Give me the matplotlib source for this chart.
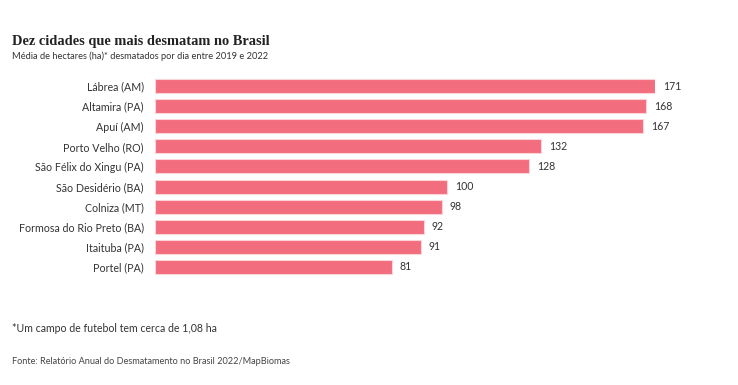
import matplotlib.pyplot as plt

cidades = ['Lábrea (AM)', 'Altamira (PA)', 'Apuí (AM)', 'Porto Velho (RO)',
           'São Félix do Xingu (PA)', 'São Desidério (BA)', 'Colniza (MT)',
           'Formosa do Rio Preto (BA)', 'Itaituba (PA)', 'Portel (PA)']
hectares = [171, 168, 167, 132, 128, 100, 98, 92, 91, 81]

plt.rcParams['font.family'] = ['Lato', 'DejaVu Sans']

W, H = 738, 385
fig = plt.figure(figsize=(W / 100, H / 100), dpi=100)
ax = fig.add_axes([155 / W, 1 - 277 / H, 500 / W, 201 / H])

pos = list(range(len(cidades)))
ax.barh(pos, hectares, height=0.7, color='#f26d7d', edgecolor='#fbd3d8', linewidth=0.8)
ax.set_xlim(0, 171)
ax.set_ylim(len(cidades) - 0.5, -0.5)
ax.set_yticks(pos)
ax.set_yticklabels(cidades, fontsize=7.7, color='#333333')
ax.tick_params(axis='y', length=0, pad=8)
ax.set_xticks([])
for s in ax.spines.values():
    s.set_visible(False)

for i, v in enumerate(hectares):
    ax.text(v + 2.7, i, str(v), va='center', ha='left', fontsize=7.6, color='#333333', clip_on=False)

fig.text(12 / W, 1 - 42 / H, 'Dez cidades que mais desmatam no Brasil', fontsize=10.4,
         fontweight='bold', family=['Liberation Serif', 'DejaVu Serif'], color='#222222', va='center')
fig.text(12 / W, 1 - 56 / H, 'Média de hectares (ha)* desmatados por dia entre 2019 e 2022',
         fontsize=6.7, color='#333333', va='center')
fig.text(12 / W, 1 - 329 / H, '*Um campo de futebol tem cerca de 1,08 ha', fontsize=7.6,
         color='#333333', va='center')
fig.text(12 / W, 1 - 362 / H, 'Fonte: Relatório Anual do Desmatamento no Brasil 2022/MapBiomas',
         fontsize=6.6, color='#444444', va='center')

fig.savefig('out.png', dpi=100)
